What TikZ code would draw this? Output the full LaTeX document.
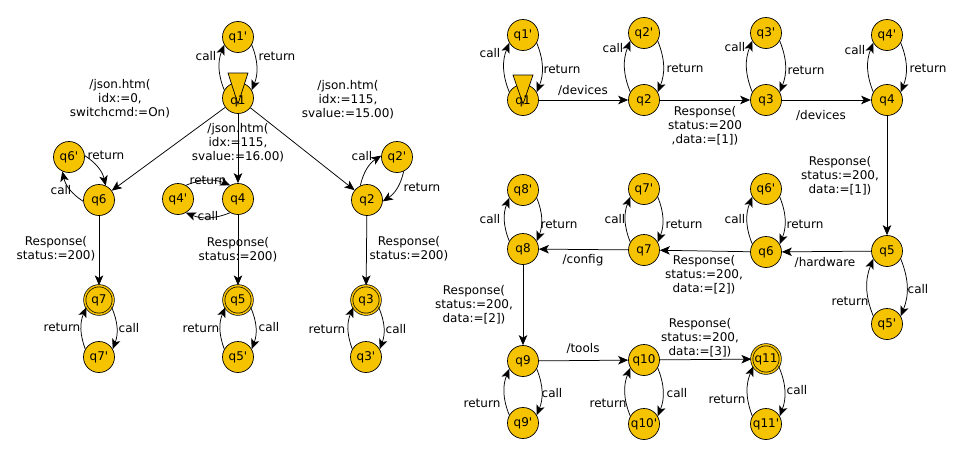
\documentclass[tikz,border=0pt]{standalone}
\usepackage{fontspec}
\setmainfont{DejaVu Sans}[Ligatures=TeXOff]
\usetikzlibrary{arrows.meta,calc}
\definecolor{stfill}{RGB}{246,195,0}
\tikzset{
  st/.style={circle,draw=black,fill=stfill,line width=0.7pt,minimum size=31pt,inner sep=0pt,font=\fontsize{12}{14}\selectfont},
  acc/.style={st,minimum size=28.5pt,double=stfill,double distance=1.5pt},
  ed/.style={-{Stealth[length=10pt,width=8.5pt,inset=2.5pt]},line width=0.75pt},
  lp/.style={ed,bend left=22},
  lbl/.style={align=center,font=\fontsize{12}{14}\selectfont,inner sep=0pt},
  tri/.style={draw=black,fill=stfill,line width=0.7pt,line join=miter},
}
% call/return pair: #1 = state, #2 = its primed state, #3 = direction angle from #1 to #2
\newcommand\crpair[3]{%
  \pgfmathtruncatemacro\angA{mod(#3+60,360)}%
  \pgfmathtruncatemacro\angB{mod(#3+120,360)}%
  \pgfmathtruncatemacro\angC{mod(#3+240,360)}%
  \pgfmathtruncatemacro\angD{mod(#3+300,360)}%
  \draw[lp] (#1.\angA) to (#2.\angB);
  \draw[lp] (#2.\angC) to (#1.\angD);}
\begin{document}
\begin{tikzpicture}[x=1pt,y=-1pt]
\useasboundingbox (0,0) rectangle (965,455);
% ---------- left graph ----------
\node[st] (L1p) at (238,37) {q1'};
\node[st] (L1) at (238,98) {};
\node[st] (L6p) at (69,157) {q6'};
\node[st] (L6) at (99,200) {q6};
\node[st] (L4p) at (178,199) {q4'};
\node[st] (L4) at (238,199) {q4};
\node[st] (L2p) at (397,157) {q2'};
\node[st] (L2) at (367,200) {q2};
\node[acc] (L7) at (99,300) {q7};
\node[st] (L7p) at (99,357) {q7'};
\node[acc] (L5) at (238,300) {q5};
\node[st] (L5p) at (238,357) {q5'};
\node[acc] (L3) at (366,300) {q3};
\node[st] (L3p) at (366,357) {q3'};
\draw[tri] ($(L1.center)+(-10,-25)$) -- ($(L1.center)+(10,-25)$) -- ($(L1.center)+(0,6)$) -- cycle;
\node[lbl] (L1t) at ($(L1.center)+(0,3)$) {q1};

\crpair{L1}{L1p}{90}
\crpair{L6}{L6p}{125}
\crpair{L4}{L4p}{180}
\crpair{L2}{L2p}{55}
\crpair{L7}{L7p}{270}
\crpair{L5}{L5p}{270}
\crpair{L3}{L3p}{270}
\draw[ed] (L1) -- (L6);
\draw[ed] (L1) -- (L4);
\draw[ed] (L1) -- (L2);
\draw[ed] (L6) -- (L7);
\draw[ed] (L4) -- (L5);
\draw[ed] (L2) -- (L3);

\node[lbl] (la1) at (206,56) {call};
\node[lbl] (la2) at (277,56) {return};
\node[lbl] (la3) at (120,99) {/json.htm(\\idx:=0,\\switchcmd:=On)};
\node[lbl] (la4) at (238,143) {/json.htm(\\idx:=115,\\svalue:=16.00)};
\node[lbl] (la5) at (348,100) {/json.htm(\\idx:=115,\\svalue:=15.00)};
\node[lbl] (la6) at (61,190) {call};
\node[lbl] (la7) at (106,155) {return};
\node[lbl] (la8) at (208,216) {call};
\node[lbl] (la9) at (208,180) {return};
\node[lbl] (la10) at (362,156) {call};
\node[lbl] (la11) at (422,187) {return};
\node[lbl] (la12) at (56,249) {Response(\\status:=200)};
\node[lbl] (la13) at (238,250) {Response(\\status:=200)};
\node[lbl] (la14) at (409,249) {Response(\\status:=200)};
\node[lbl] (la15) at (62,327) {return};
\node[lbl] (la16) at (129,328) {call};
\node[lbl] (la17) at (201,328) {return};
\node[lbl] (la18) at (269,327) {call};
\node[lbl] (la19) at (327,329) {return};
\node[lbl] (la20) at (396,329) {call};

% ---------- right graph ----------
\node[st] (R1p) at (523,35) {q1'};
\node[st] (R1) at (523,100) {};
\node[st] (R2p) at (644,33) {q2'};
\node[st] (R2) at (644,100) {q2};
\node[st] (R3p) at (766,33) {q3'};
\node[st] (R3) at (766,100) {q3};
\node[st] (R4p) at (887,35) {q4'};
\node[st] (R4) at (887,100) {q4};
\node[st] (R8p) at (523,190) {q8'};
\node[st] (R7p) at (644,189) {q7'};
\node[st] (R6p) at (766,189) {q6'};
\node[st] (R8) at (523,249) {q8};
\node[st] (R7) at (644,250) {q7};
\node[st] (R6) at (766,252) {q6};
\node[st] (R5) at (887,251) {q5};
\node[st] (R5p) at (887,324) {q5'};
\node[st] (R9) at (523,361) {q9};
\node[st] (R10) at (644,360) {q10};
\node[acc] (R11) at (766,359) {q11};
\node[st] (R9p) at (523,423) {q9'};
\node[st] (R10p) at (644,424) {q10'};
\node[st] (R11p) at (766,424) {q11'};
\draw[tri] ($(R1.center)+(-10,-25)$) -- ($(R1.center)+(10,-25)$) -- ($(R1.center)+(0,4)$) -- cycle;
\node[lbl] (R1t) at ($(R1.center)+(0,1)$) {q1};

\crpair{R1}{R1p}{90}
\crpair{R2}{R2p}{90}
\crpair{R3}{R3p}{90}
\crpair{R4}{R4p}{90}
\crpair{R8}{R8p}{90}
\crpair{R7}{R7p}{90}
\crpair{R6}{R6p}{90}
\crpair{R5}{R5p}{270}
\crpair{R9}{R9p}{270}
\crpair{R10}{R10p}{270}
\crpair{R11}{R11p}{270}
\draw[ed] (R1) -- (R2);
\draw[ed] (R2) -- (R3);
\draw[ed] (R3) -- (R4);
\draw[ed] (R4) -- (R5);
\draw[ed] (R5) -- (R6);
\draw[ed] (R6) -- (R7);
\draw[ed] (R7) -- (R8);
\draw[ed] (R8) -- (R9);
\draw[ed] (R9) -- (R10);
\draw[ed] (R10) -- (R11);

\node[lbl] (lb1) at (490,53) {call};
\node[lbl] (lb2) at (562,69) {return};
\node[lbl] (lb3) at (583,90) {/devices};
\node[lbl] (lb4) at (613,48) {call};
\node[lbl] (lb5) at (685,68) {return};
\node[lbl] (lb6) at (705,126) {Response(\\status:=200\\,data:=[1])};
\node[lbl] (lb7) at (735,47) {call};
\node[lbl] (lb8) at (806,70) {return};
\node[lbl] (lb9) at (821,115) {/devices};
\node[lbl] (lb10) at (855,50) {call};
\node[lbl] (lb11) at (928,68) {return};
\node[lbl] (lb12) at (840,176) {Response(\\status:=200,\\data:=[1])};
\node[lbl] (lb13) at (825,262) {/hardware};
\node[lbl] (lb14) at (918,289) {call};
\node[lbl] (lb15) at (850,301) {return};
\node[lbl] (lb16) at (735,219) {call};
\node[lbl] (lb17) at (805,224) {return};
\node[lbl] (lb18) at (704,275) {Response(\\status:=200,\\data:=[2])};
\node[lbl] (lb19) at (615,219) {call};
\node[lbl] (lb20) at (684,224) {return};
\node[lbl] (lb21) at (583,260) {/config};
\node[lbl] (lb22) at (490,219) {call};
\node[lbl] (lb23) at (559,224) {return};
\node[lbl] (lb24) at (474,305) {Response(\\status:=200,\\data:=[2])};
\node[lbl] (lb25) at (583,348) {/tools};
\node[lbl] (lb26) at (700,338) {Response(\\status:=200,\\data:=[3])};
\node[lbl] (lb27) at (552,393) {call};
\node[lbl] (lb28) at (482,403) {return};
\node[lbl] (lb29) at (677,393) {call};
\node[lbl] (lb30) at (608,403) {return};
\node[lbl] (lb31) at (797,390) {call};
\node[lbl] (lb32) at (727,399) {return};
\end{tikzpicture}
\end{document}
